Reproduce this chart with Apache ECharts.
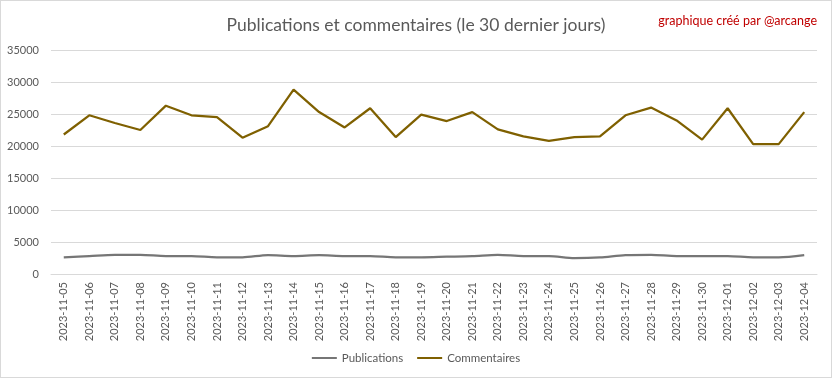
<!DOCTYPE html>
<html><head><meta charset="utf-8">
<script src="https://cdn.jsdelivr.net/npm/echarts@6/dist/echarts.min.js"></script>
<style>html,body{margin:0;padding:0;background:#fff}#c{width:832px;height:378px;box-sizing:border-box;border:1px solid #d9d9d9}</style>
</head><body><div id="c"></div>
<script>
const categories = ["2023-11-05","2023-11-06","2023-11-07","2023-11-08","2023-11-09","2023-11-10","2023-11-11","2023-11-12","2023-11-13","2023-11-14","2023-11-15","2023-11-16","2023-11-17","2023-11-18","2023-11-19","2023-11-20","2023-11-21","2023-11-22","2023-11-23","2023-11-24","2023-11-25","2023-11-26","2023-11-27","2023-11-28","2023-11-29","2023-11-30","2023-12-01","2023-12-02","2023-12-03","2023-12-04"];
const publications = [2600,2800,3000,3000,2800,2800,2600,2600,2950,2800,2950,2800,2800,2600,2600,2700,2800,3000,2800,2800,2500,2600,2950,3000,2800,2800,2800,2600,2600,2950];
const commentaires = [21800,24800,23600,22500,26300,24800,24500,21300,23100,28800,25300,22900,25900,21400,24900,23900,25300,22600,21500,20800,21400,21500,24800,26000,24000,21000,25900,20300,20300,25300];
const chart = echarts.init(document.getElementById('c'));
const font = 'Lato, "Open Sans", sans-serif';
chart.setOption({
  animation:false,
  textStyle:{fontFamily:font},
  title:[{text:'Publications et commentaires (le 30 dernier jours)',left:'center',top:10,textStyle:{fontSize:17.5,fontWeight:'normal',color:'#595959',fontFamily:font}},
         {text:'graphique créé par @arcange',right:9,top:8,textStyle:{fontSize:12.5,fontWeight:'normal',color:'#c00000',fontFamily:font}}],
  legend:{bottom:8,left:'center',icon:'rect',itemWidth:25,itemHeight:2,itemGap:14,textStyle:{fontSize:11.5,color:'#595959'},data:['Publications','Commentaires']},
  grid:{left:50,right:14,top:49,bottom:103,containLabel:false},
  xAxis:{type:'category',data:categories,boundaryGap:true,axisLine:{lineStyle:{color:'#d9d9d9'}},axisTick:{show:false},axisLabel:{rotate:90,fontSize:11,color:'#595959',interval:0,margin:8}},
  yAxis:{type:'value',min:0,max:35000,interval:5000,axisLine:{show:false},axisTick:{show:false},axisLabel:{fontSize:11,color:'#595959',margin:12,formatter:function(v){return String(v);}},splitLine:{lineStyle:{color:'#d9d9d9'}}},
  series:[
    {name:'Publications',type:'line',data:publications,smooth:0.3,showSymbol:false,symbol:'none',lineStyle:{color:'#767676',width:2.25},itemStyle:{color:'#767676'}},
    {name:'Commentaires',type:'line',data:commentaires,showSymbol:false,symbol:'none',lineStyle:{color:'#7f6000',width:2.25},itemStyle:{color:'#7f6000'}}
  ]
});
</script></body></html>
